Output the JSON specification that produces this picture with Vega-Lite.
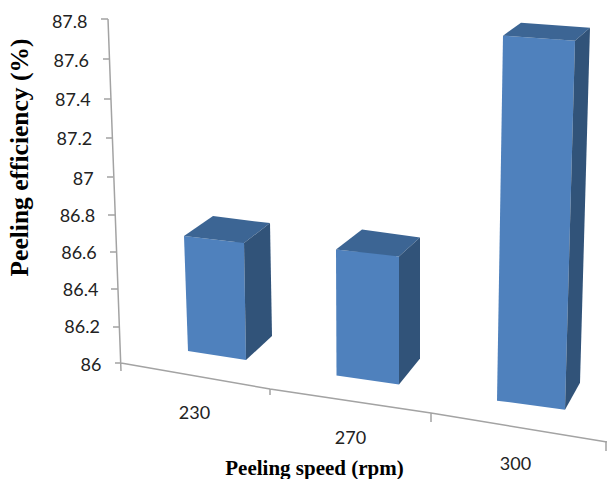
{"$schema":"https://vega.github.io/schema/vega-lite/v6.json","width":473,"height":419,"padding":{"left":134,"top":0,"right":0,"bottom":60},"autosize":"none","background":"white","config":{"view":{"stroke":null}},"data":{"values":[{"speed":230,"efficiency":86.65,"floor":86.07},{"speed":270,"efficiency":86.6,"floor":85.94},{"speed":300,"efficiency":87.7,"floor":85.81}]},"resolve":{"scale":{"shape":"independent"}},"encoding":{"x":{"field":"speed","type":"quantitative","scale":{"domain":[230,270,300],"range":[82,234,397],"padding":0,"nice":false,"zero":false},"axis":{"values":[230,270,300],"grid":false,"domain":false,"ticks":false,"labelFont":"Lato","labelFontSize":18,"labelColor":"#222222","labelBaseline":"top","labelFlush":false,"labelOverlap":false,"labelPadding":{"expr":"datum.value==230?-15:(datum.value==270?10:36)"},"labelOffset":{"expr":"datum.value==230?-22:(datum.value==270?-18:-16)"},"title":"Peeling speed (rpm)","titleFont":"Liberation Serif","titleFontSize":21,"titleFontWeight":"bold","titleColor":"#000000","titleX":180,"titleY":49,"titleBaseline":"middle","titleAnchor":"middle","titleAlign":"center"}},"y":{"field":"efficiency","type":"quantitative","scale":{"domain":[85.7,86,87,87.8],"range":[419,363,177,20],"nice":false,"zero":false},"axis":{"values":[86,86.2,86.4,86.6,86.8,87,87.2,87.4,87.6,87.8],"format":"~g","grid":false,"domain":false,"ticks":false,"labelFont":"Lato","labelFontSize":18,"labelColor":"#222222","labelOverlap":false,"labelFlush":false,"labelPadding":{"expr":"33+(datum.value-86)*7.8"},"labelOffset":{"expr":"datum.value*0+2"},"title":"Peeling efficiency (%)","titleFont":"Liberation Serif","titleFontSize":25.5,"titleFontWeight":"bold","titleColor":"#000000","titleX":-115,"titleY":157,"titleAngle":270,"titleBaseline":"middle","titleAlign":"center","titleAnchor":"middle"}}},"layer":[{"data":{"values":[{"speed":230,"efficiency":86}]},"mark":{"type":"point","filled":false,"size":4,"stroke":"#a3a3a3","strokeWidth":1.5,"opacity":1,"shape":"M-108 -344L-95 8M-95 0L54 26L215 50L391 79M54 26L54 32M215 50L215 59M390 78L390 88M-115 -344L-108 -344M-113 -304L-107 -304M-112 -264L-105.5 -264M-110 -225L-104 -225M-109 -186L-103 -186M-108 -148L-101 -148M-106 -111L-100 -111M-105 -74L-98 -74M-103 -36L-97 -36M-101 0L-95 0"}},{"mark":{"type":"bar","size":56,"orient":"vertical","color":"#4f81bd"},"encoding":{"y2":{"field":"floor"}}},{"mark":{"type":"point","filled":true,"size":4,"opacity":1,"strokeWidth":0,"color":"#4f81bd"},"encoding":{"shape":{"field":"speed","type":"nominal","legend":null,"scale":{"domain":[230,270,300],"range":["M-32 -6L28 1L30 118L-28 109Z","M-32 -2L31 5L31 133L-31.5 124Z","M-28 -4L44 1L34 370L-34 361Z"]}}}},{"mark":{"type":"point","filled":true,"size":4,"opacity":1,"strokeWidth":0,"color":"#3c6594"},"encoding":{"shape":{"field":"speed","type":"nominal","legend":null,"scale":{"domain":[230,270,300],"range":["M-32 -6L-3 -26L54 -19L28 1Z","M-32 -2L-6 -22L52 -14L31 5Z","M-28 -4L-10 -17L59 -12L44 1Z"]}}}},{"mark":{"type":"point","filled":true,"size":4,"opacity":1,"strokeWidth":0,"color":"#315379"},"encoding":{"shape":{"field":"speed","type":"nominal","legend":null,"scale":{"domain":[230,270,300],"range":["M28 1L54 -19L56 94L30 118Z","M31 5L52 -14L52 107L31 133Z","M44 1L59 -12L49 343L34 370Z"]}}}}]}
